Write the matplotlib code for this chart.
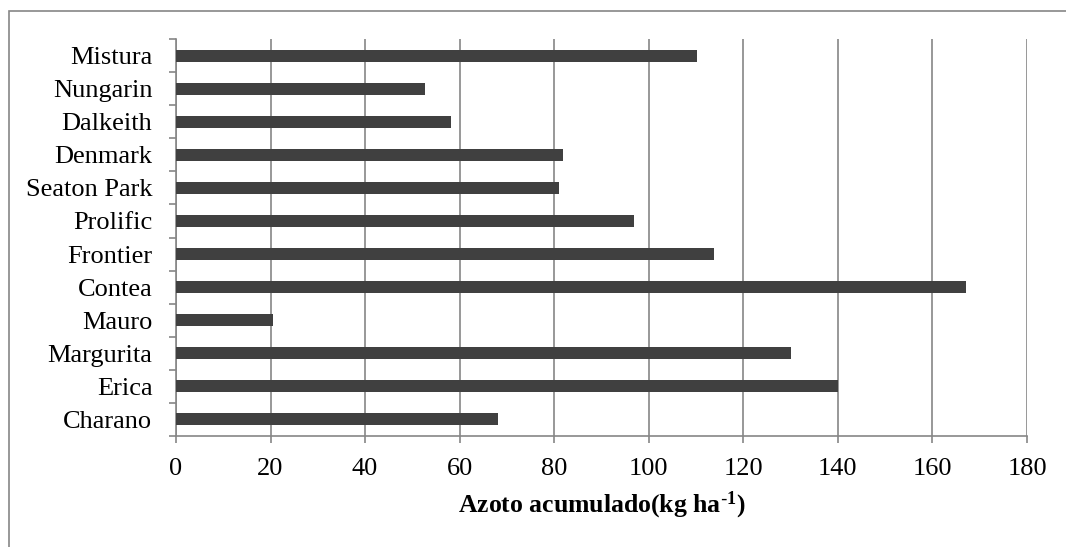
import matplotlib
matplotlib.use("Agg")
import matplotlib.pyplot as plt
from matplotlib.patches import Rectangle
import numpy as np

# data (bottom to top)
varieties = ["Charano", "Erica", "Margurita", "Mauro", "Contea", "Frontier",
             "Prolific", "Seaton Park", "Denmark", "Dalkeith", "Nungarin", "Mistura"]
nitrogen = [68.2, 140.1, 130.0, 20.6, 167.2, 113.9,
            96.8, 81.0, 81.9, 58.1, 52.6, 110.2]
x_ticks = [0, 20, 40, 60, 80, 100, 120, 140, 160, 180]

plt.rcParams["font.family"] = ["Liberation Serif", "DejaVu Serif"]
plt.rcParams["mathtext.default"] = "regular"

grey = "#868686"

fig = plt.figure(figsize=(10.66, 5.47), dpi=100)
ax = fig.add_axes([176 / 1066, 1 - 435.7 / 547, 851 / 1066, 396.4 / 547])

# outer chart frame (clipped at right and bottom like the reference)
fig.patches.append(Rectangle((8.6 / 1066, -0.1), 1.2, 1 - 11.4 / 547 + 0.1,
                             transform=fig.transFigure, fill=False,
                             edgecolor=grey, linewidth=1.2))

pos = np.arange(len(varieties))
ax.barh(pos, nitrogen, height=0.36, color="#404040", zorder=3)

ax.set_xlim(0, 180)
ax.set_ylim(-0.5, len(varieties) - 0.5)
ax.set_xticks(x_ticks)
ax.set_xticklabels([str(t) for t in x_ticks])
ax.set_yticks(pos)
ax.set_yticklabels(varieties)
ax.set_yticks(np.arange(-0.5, len(varieties)), minor=True)

ax.grid(axis="x", color=grey, linewidth=1.2, zorder=0)
ax.set_axisbelow(True)

for side in ["top", "right"]:
    ax.spines[side].set_visible(False)
for side in ["left", "bottom"]:
    ax.spines[side].set_color(grey)
    ax.spines[side].set_linewidth(1.2)

ax.tick_params(axis="y", which="major", length=0, pad=17, labelsize=19)
ax.tick_params(axis="y", which="minor", length=5, width=1.2, color=grey)
ax.tick_params(axis="x", length=5, width=1.2, color=grey, pad=11, labelsize=19)

ax.set_xlabel(r"Azoto acumulado(kg ha$^{\text{-}1}$)", fontsize=18.5,
              fontweight="bold", labelpad=7)

fig.savefig("out.png", dpi=100)
